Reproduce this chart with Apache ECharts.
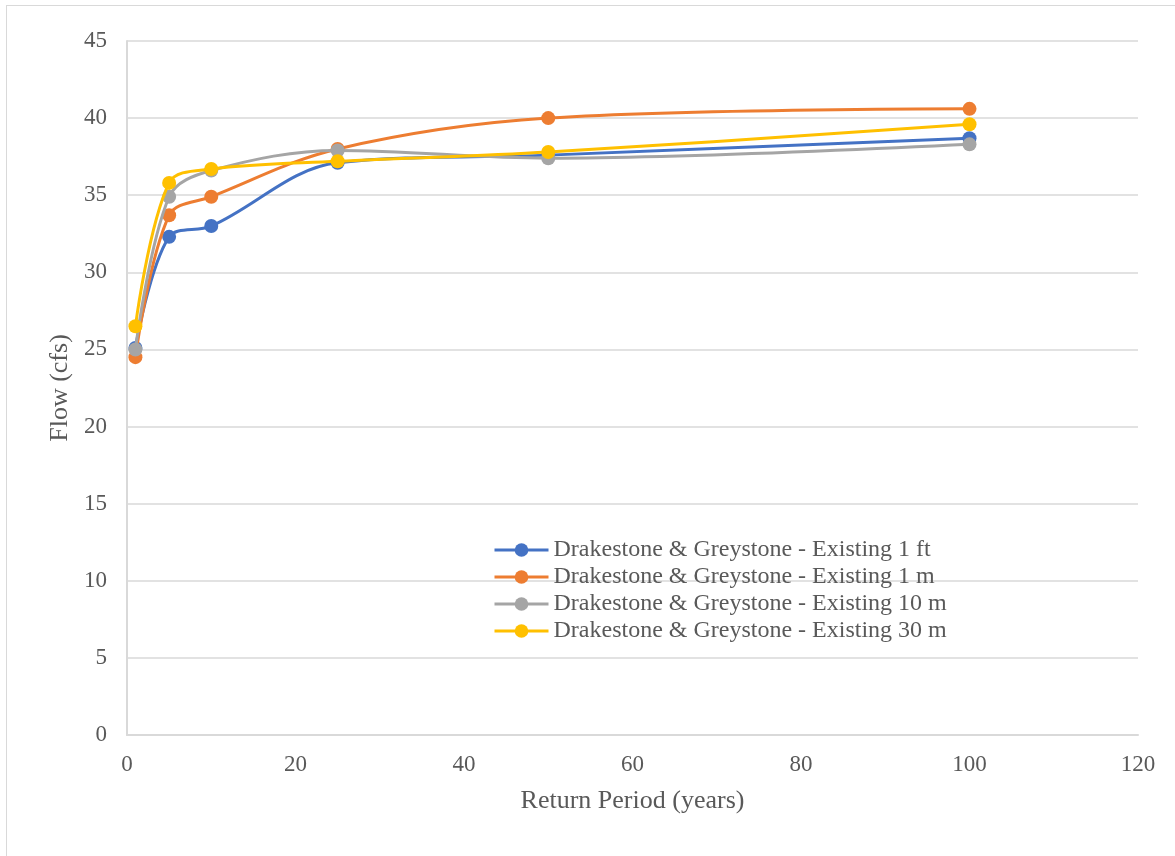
<!DOCTYPE html>
<html>
<head>
<meta charset="utf-8">
<style>
  html, body { margin: 0; padding: 0; background: #ffffff; }
  #frame { position: absolute; left: 6px; top: 5px; width: 1200px; height: 900px; border-left: 1px solid #d9d9d9; border-top: 1px solid #d9d9d9; }
  #chart { position: absolute; left: 0; top: 0; width: 1175px; height: 856px; }
</style>
<script src="https://cdn.jsdelivr.net/npm/echarts@6/dist/echarts.min.js"></script>
</head>
<body>
<div id="frame"></div>
<div id="chart"></div>
<script>
// Return periods (years)
const returnPeriods = [1, 5, 10, 25, 50, 100];

// Peak flow (cfs) per scenario
const existing1ft = [25.1, 32.3, 33.0, 37.1, 37.6, 38.7];
const existing1m  = [24.5, 33.7, 34.9, 38.0, 40.0, 40.6];
const existing10m = [25.0, 34.9, 36.6, 37.9, 37.4, 38.3];
const existing30m = [26.5, 35.8, 36.7, 37.2, 37.8, 39.6];

const seriesNames = [
  'Drakestone & Greystone - Existing 1 ft',
  'Drakestone & Greystone - Existing 1 m',
  'Drakestone & Greystone - Existing 10 m',
  'Drakestone & Greystone - Existing 30 m'
];
const seriesValues = [existing1ft, existing1m, existing10m, existing30m];
const seriesColors = ['#4472C4', '#ED7D31', '#A5A5A5', '#FFC000'];

const font = 'Liberation Serif, Times New Roman, serif';
const textColor = '#595959';

const chart = echarts.init(document.getElementById('chart'), null, { renderer: 'canvas' });

chart.setOption({
  animation: false,
  backgroundColor: 'transparent',
  grid: { left: 127, right: 37, top: 41, bottom: 121, containLabel: false },
  legend: {
    orient: 'vertical',
    left: 493,
    top: 538,
    padding: 0,
    itemWidth: 54,
    itemHeight: 17,
    itemGap: 3,
    lineStyle: { width: 3 },
    textStyle: { fontFamily: font, fontSize: 24, lineHeight: 24, color: textColor },
    data: seriesNames
  },
  xAxis: {
    type: 'value',
    min: 0, max: 120, interval: 20,
    name: 'Return Period (years)',
    nameLocation: 'middle',
    nameGap: 53,
    nameTextStyle: { fontFamily: font, fontSize: 26, color: textColor },
    axisLine: { show: true, lineStyle: { color: '#d9d9d9', width: 2 } },
    axisTick: { show: false },
    axisLabel: { fontFamily: font, fontSize: 23, color: textColor, margin: 18 },
    splitLine: { show: false }
  },
  yAxis: {
    type: 'value',
    min: 0, max: 45, interval: 5,
    name: 'Flow (cfs)',
    nameLocation: 'middle',
    nameGap: 50,
    nameRotate: 90,
    nameTextStyle: { fontFamily: font, fontSize: 26, color: textColor },
    axisLine: { show: true, lineStyle: { color: '#d9d9d9', width: 2 } },
    axisTick: { show: false },
    axisLabel: { fontFamily: font, fontSize: 23, color: textColor, margin: 20 },
    splitLine: { show: true, lineStyle: { color: '#d9d9d9', width: 1.5 } }
  },
  series: seriesValues.map((vals, i) => ({
    name: seriesNames[i],
    type: 'line',
    smooth: 0.35,
    data: returnPeriods.map((x, j) => [x, vals[j]]),
    symbol: 'circle',
    symbolSize: 14,
    lineStyle: { color: seriesColors[i], width: 3 },
    itemStyle: { color: seriesColors[i] },
    z: 2 + i
  }))
});
</script>
</body>
</html>
